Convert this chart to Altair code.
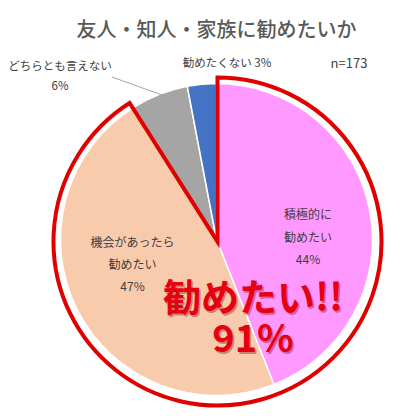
import altair as alt
import pandas as pd

# ---- data ----
categories = ["積極的に勧めたい", "機会があったら勧めたい", "どちらとも言えない", "勧めたくない"]
label_lines = ["積極的に\n勧めたい", "機会があったら\n勧めたい", "どちらとも言えない", "勧めたくない"]
values = [44, 47, 6, 3]
colors = ["#FF99FF", "#F8CBAD", "#A5A5A5", "#4472C4"]
title_text = "友人・知人・家族に勧めたいか"
n_text = "n=173"
highlight_text = "勧めたい!!"
highlight_share = [0, 91]   # start / end of the highlighted group (%)

FONT = "Noto Sans CJK JP"

df = pd.DataFrame({
    "category": categories,
    "label": label_lines,
    "value": values,
    "order": list(range(len(categories))),
})
df["multi"] = [f"{l}\n{v}%" for l, v in zip(label_lines, values)]
df["inline"] = [f"{l} {v}%" for l, v in zip(label_lines, values)]

hl = pd.DataFrame({"start": [highlight_share[0]], "end": [highlight_share[1]],
                   "pct": [f"{highlight_share[1]}%"], "txt": [highlight_text]})

CX, CY, R = 208.5, 231.5, 156

base = alt.Chart(df)

pie = base.mark_arc(x=CX, y=CY, outerRadius=R, stroke="white", strokeWidth=1.5).encode(
    theta=alt.Theta("value:Q", stack=True, scale=alt.Scale(domain=[0, 100])),
    color=alt.Color("category:N", scale=alt.Scale(domain=categories, range=colors), legend=None),
    order=alt.Order("order:Q"),
)

outline = alt.Chart(hl).mark_arc(
    x=209.5, y=233.5, outerRadius=164, fillOpacity=0, fill="white",
    stroke="#E00000", strokeWidth=4, strokeJoin="miter"
).encode(
    theta=alt.Theta("start:Q", scale=alt.Scale(domain=[0, 100])),
    theta2="end:Q",
)

def lab(idx, x, y, field, **kw):
    params = dict(x=x, y=y, font=FONT, fontSize=12, color="#404040",
                  align="center", baseline="middle", lineBreak="\n")
    params.update(kw)
    return base.transform_filter(alt.datum.order == idx).mark_text(**params).encode(
        text=alt.Text(f"{field}:N"))

lab_pink = lab(0, 300, 207, "multi", lineHeight=22.5)
lab_peach = lab(1, 124.5, 235, "multi", lineHeight=22)
lab_gray = lab(2, 52, 59, "multi", lineHeight=20, fontSize=11.5)
lab_blue = lab(3, 219, 56, "inline", fontSize=11.5)

leader = base.transform_filter(alt.datum.order == 2).mark_rule(
    color="#A6A6A6", strokeWidth=1
).encode(x=alt.value(104), y=alt.value(69), x2=alt.value(154), y2=alt.value(87))

title = alt.Chart(hl).mark_text(
    x=208.5, y=23, font=FONT, fontSize=20, fontWeight=500, color="#595959", align="center", baseline="middle"
).encode(text=alt.value(title_text))

ntext = alt.Chart(hl).mark_text(
    x=341, y=56, font=FONT, fontSize=13, color="#404040", align="center", baseline="middle"
).encode(text=alt.value(n_text))

def big(field, x, y, color, opacity=1.0):
    return alt.Chart(hl).mark_text(
        x=x, y=y, font=FONT, fontSize=38, fontWeight="bold", color=color, opacity=opacity,
        align="center", baseline="middle"
    ).encode(text=alt.Text(f"{field}:N"))

big_layers = [
    big("txt", 246.5, 293.5, "#7a0000", 0.35),
    big("pct", 246.5, 334.5, "#7a0000", 0.35),
    big("txt", 245, 292, "#E60012"),
    big("pct", 245, 333, "#E60012"),
]

chart = alt.layer(
    pie, outline, leader, lab_pink, lab_peach, lab_gray, lab_blue, title, ntext, *big_layers
).resolve_scale(theta="independent").properties(
    width=381, height=401, padding=0, autosize=alt.AutoSizeParams(type="none")
).configure_view(stroke=None)

chart.save("out.html", embed_options={"renderer": "svg", "actions": False})
